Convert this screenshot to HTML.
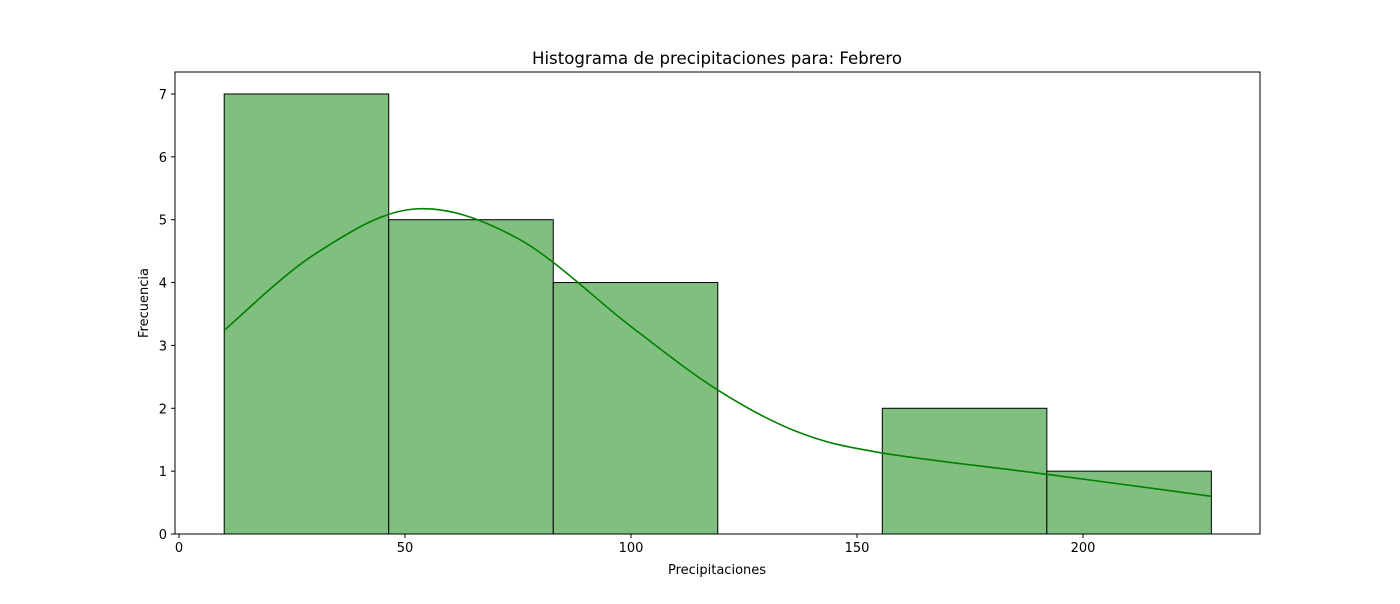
<!DOCTYPE html>
<html><head><meta charset="utf-8"><style>
body{margin:0;background:#fff;font-family:"DejaVu Sans","Liberation Sans",sans-serif}
</style></head><body>
<svg id="chart" width="1400" height="600" xmlns="http://www.w3.org/2000/svg" font-family="DejaVu Sans, Liberation Sans, sans-serif"></svg>
<script>
const binEdges=[10.0,46.4,82.8,119.2,155.6,192.0,228.4];
const binCounts=[7,5,4,0,2,1];
const kdeX=[10,30,52,75,100,119.2,137,155.5,192,228.4];
const kdeY=[3.24,4.45,5.17,4.7,3.3,2.29,1.62,1.29,0.95,0.6];
const xTicks=[0,50,100,150,200];
const yTicks=[0,1,2,3,4,5,6,7];
const L=175,R=1260,T=72,B=534;
const xs=v=>179+v*4.52, ys=v=>534-v*62.86;
const svg=document.getElementById('chart');const NS='http://www.w3.org/2000/svg';
function mk(t,a,txt){const e=document.createElementNS(NS,t);for(const k in a)e.setAttribute(k,a[k]);if(txt!==undefined)e.textContent=txt;svg.appendChild(e);return e;}
binCounts.forEach((c,i)=>{if(!c)return;
const r=mk('rect',{x:xs(binEdges[i]),y:ys(c),width:xs(binEdges[i+1])-xs(binEdges[i]),height:ys(0)-ys(c),fill:'#80bf80',stroke:'#000','stroke-width':1});

});
const P=kdeX.map((x,i)=>[xs(x),ys(kdeY[i])]);
let d='M'+P[0][0]+','+P[0][1];
for(let i=0;i<P.length-1;i++){const p0=P[Math.max(0,i-1)],p1=P[i],p2=P[i+1],p3=P[Math.min(P.length-1,i+2)];
d+=` C${p1[0]+(p2[0]-p0[0])/6},${p1[1]+(p2[1]-p0[1])/6} ${p2[0]-(p3[0]-p1[0])/6},${p2[1]-(p3[1]-p1[1])/6} ${p2[0]},${p2[1]}`;}
const k=mk('path',{d:d,fill:'none',stroke:'#008000','stroke-width':1.6});


const f=mk('rect',{x:L,y:T,width:R-L,height:B-T,fill:'none',stroke:'#000','stroke-width':1});


xTicks.forEach(v=>{mk('line',{x1:xs(v),x2:xs(v),y1:B,y2:B+4,stroke:'#000'});
const t=mk('text',{x:xs(v),y:B+18,'text-anchor':'middle','font-size':13},v);

});
yTicks.forEach(v=>{mk('line',{x1:L-4,x2:L,y1:ys(v),y2:ys(v),stroke:'#000'});
const t=mk('text',{x:L-8,y:ys(v)+5,'text-anchor':'end','font-size':13},v);

});
const tt=mk('text',{x:717,y:64,'text-anchor':'middle','font-size':16.6},'Histograma de precipitaciones para: Febrero');


const xt=mk('text',{x:717,y:574,'text-anchor':'middle','font-size':13},'Precipitaciones');


const yt=mk('text',{x:148,y:303,'text-anchor':'middle','font-size':13,transform:'rotate(-90 148 303)'},'Frecuencia');


</script>
</body></html>
